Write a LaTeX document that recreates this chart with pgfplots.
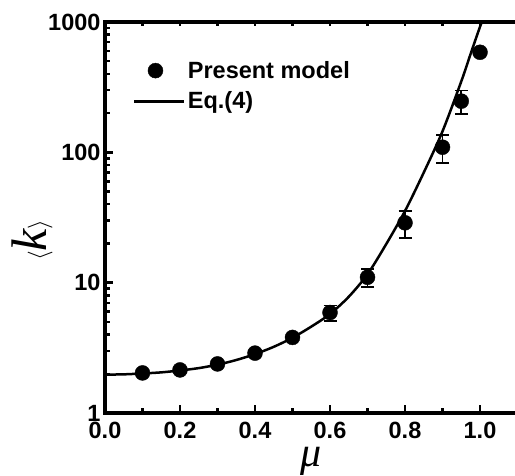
\documentclass[border=0pt]{standalone}
\usepackage{fontspec}
\setmainfont{Liberation Sans}
\newfontfamily\serif{Liberation Serif}
\usepackage{pgfplots}
\pgfplotsset{compat=1.18}

% legend pictures: a single dot, and a short line of the same width
\pgfplotsset{
  dotlegend/.style={legend image code/.code={\path[draw=none] (0pt,0pt) -- (50pt,0pt);
    \path[##1] plot coordinates {(21pt,0pt)};}},
  linelegend/.style={legend image code/.code={\draw[##1, line width=2.8pt] (0pt,0pt) -- (50pt,0pt);}},
}

% simulation results with error bars
\pgfplotstableread{
x     y      e
0.10  2.03   0
0.20  2.14   0
0.30  2.38   0
0.40  2.88   0
0.50  3.80   0
0.60  5.90   0.8
0.70  11.0   1.7
0.80  28.8   6.7
0.90  109.5  26.5
0.95  247    51
1.00  586    0
}\simdata

% analytic curve, Eq.(4)
\pgfplotstableread{
x      y
0.000  1.97
0.050  1.98
0.100  2.01
0.150  2.05
0.200  2.12
0.250  2.21
0.300  2.35
0.350  2.55
0.400  2.83
0.450  3.22
0.500  3.78
0.550  4.60
0.600  5.75
0.650  7.80
0.700  11.6
0.750  19.8
0.800  35.5
0.850  70.0
0.900  145
0.950  350
0.975  570
1.000  920
1.005  1000
}\eqdata

\begin{document}
\begin{tikzpicture}
\useasboundingbox (-105pt,-62pt) rectangle (410pt,413pt);
\begin{axis}[
  at={(0,0)}, anchor=south west,
  scale only axis, width=410pt, height=391pt,
  xmin=0, xmax=1.0933,
  ymode=log, ymin=1, ymax=1000,
  axis x line*=bottom, axis y line*=left,
  axis line style={line width=3.5pt, line cap=rect},
  every tick/.style={black, line width=2.5pt},
  tick align=inside,
  major tick length=8pt, minor tick length=5pt,
  xtick={0,0.2,0.4,0.6,0.8,1.0},
  xticklabels={0.0,0.2,0.4,0.6,0.8,1.0},
  minor x tick num=1,
  ytick={1,10,100,1000},
  yticklabels={1,10,100,1000},
  /pgf/number format/assume math mode=true,
  tick label style={font=\fontsize{23.5}{28}\selectfont\bfseries},
  xticklabel style={yshift=-6pt},
  yticklabel style={xshift=-1pt},
  xlabel={\serif\itshape\fontsize{42}{42}\selectfont μ},
  xlabel style={at={(axis description cs:0.502,-0.124)}, anchor=center},
  ylabel={\fontsize{50}{50}\selectfont$\langle${\serif\itshape k}$\rangle$},
  ylabel style={at={(axis description cs:-0.178,0.442)}, anchor=center, rotate=0},
  legend style={draw=none, fill=none, at={(axis description cs:0.068,0.905)},
    anchor=north west, font=\fontsize{23.5}{28}\selectfont\bfseries,
    inner sep=0pt, row sep=8pt, nodes={inner sep=2pt}},
  legend cell align=left,
]
\addplot[only marks, mark=*, mark size=7.5pt, black, dotlegend,
  error bars/.cd, y dir=both, y explicit,
  error bar style={line width=1.6pt, black},
  error mark options={rotate=90, mark size=6.5pt, line width=1.6pt, black}]
  table[x=x, y=y, y error=e] {\simdata};
\addlegendentry{Present model}
\addplot[black, line width=2.5pt, smooth, no marks, linelegend]
  table[x=x, y=y] {\eqdata};
\addlegendentry{Eq.(4)}
\end{axis}
% top frame line with short inward ticks
\begin{axis}[
  at={(0,0)}, anchor=south west,
  scale only axis, width=410pt, height=391pt,
  xmin=0, xmax=1.0933, ymin=0, ymax=1,
  axis x line*=top, axis y line=none,
  axis line style={line width=3.5pt, line cap=rect},
  every tick/.style={black, line width=2.5pt},
  tick align=inside, major tick length=4.5pt,
  xtick={0,0.1,0.2,0.3,0.4,0.5,0.6,0.7,0.8,0.9,1.0},
  xticklabels={},
]
\end{axis}
\end{tikzpicture}
\end{document}
